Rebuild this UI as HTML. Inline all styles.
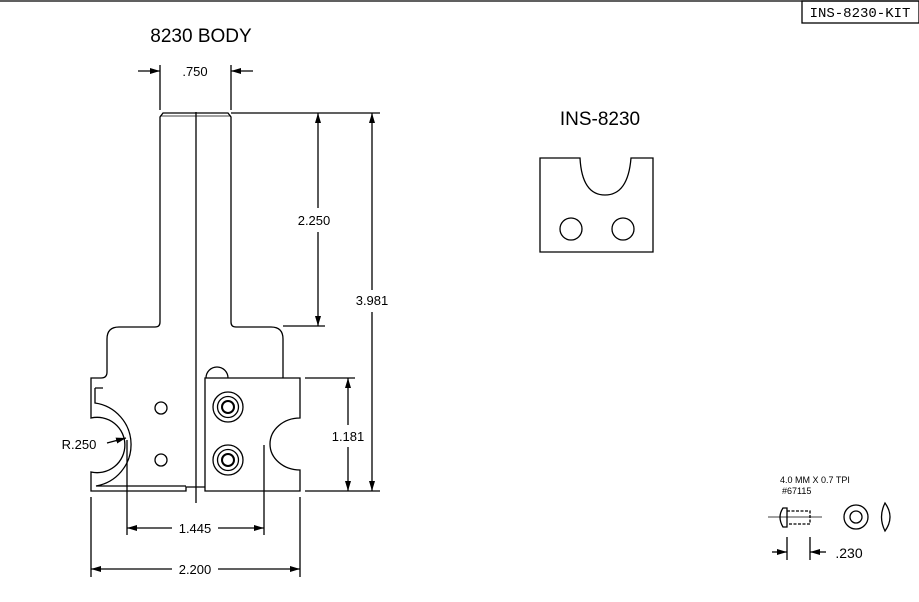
<!DOCTYPE html>
<html><head><style>body{margin:0;background:#fff}svg{display:block}text{font-family:"Liberation Sans",sans-serif}</style></head><body>
<svg width="919" height="602" viewBox="0 0 919 602" xmlns="http://www.w3.org/2000/svg">
<defs><marker id="a" markerWidth="10" markerHeight="6" refX="10" refY="3" orient="auto" markerUnits="userSpaceOnUse"><path d="M0,0L10,3L0,6z" fill="#000"/></marker></defs>
<g fill="none" stroke="#000" stroke-width="1.3">
<line x1="0" y1="1" x2="919" y2="1"/>
<rect x="802" y="1" width="117" height="22"/>
<path d="M160,322V117L163,113H228L231,117V322Q231,327 236,327H271Q283,327 283,339V378"/>
<path d="M160,322Q160,327 155,327H119Q107,327 107,339V372Q107,378 101,378H91V418A27.7,27.7 0 1 1 91,472V491H186V487H205"/>
<path d="M95,388H103M95,388V403A42,42 0 0 1 96,486H186"/>
<line x1="160" y1="116" x2="231" y2="116" stroke-width="0.8"/>
<line x1="196" y1="112" x2="196" y2="503"/>
<circle cx="161" cy="408" r="6"/><circle cx="161" cy="460" r="6"/>
<path d="M205,378H300V418A30,26 0 0 0 300,470V491H205Z"/>
<path d="M206,378A11,11 0 0 1 228,378"/>
<circle cx="228" cy="407" r="15"/><circle cx="228" cy="407" r="10.5"/><circle cx="228" cy="407" r="6" stroke-width="2"/>
<circle cx="228" cy="460" r="15"/><circle cx="228" cy="460" r="10.5"/><circle cx="228" cy="460" r="6" stroke-width="2"/>
<line x1="160" y1="65" x2="160" y2="110"/><line x1="231" y1="65" x2="231" y2="110"/>
<line x1="138" y1="71" x2="160" y2="71" marker-end="url(#a)"/><line x1="253" y1="71" x2="231" y2="71" marker-end="url(#a)"/>
<line x1="231" y1="113" x2="380" y2="113"/>
<line x1="283" y1="326" x2="325" y2="326"/>
<line x1="318" y1="208" x2="318" y2="113" marker-end="url(#a)"/><line x1="318" y1="232" x2="318" y2="326" marker-end="url(#a)"/>
<line x1="372" y1="290" x2="372" y2="113" marker-end="url(#a)"/><line x1="372" y1="312" x2="372" y2="491" marker-end="url(#a)"/>
<line x1="305" y1="378" x2="355" y2="378"/><line x1="305" y1="491" x2="380" y2="491"/>
<line x1="348" y1="425" x2="348" y2="378" marker-end="url(#a)"/><line x1="348" y1="447" x2="348" y2="491" marker-end="url(#a)"/>
<line x1="127" y1="440" x2="127" y2="535"/><line x1="264" y1="445" x2="264" y2="535"/>
<line x1="172" y1="528" x2="127" y2="528" marker-end="url(#a)"/><line x1="218" y1="528" x2="264" y2="528" marker-end="url(#a)"/>
<line x1="91" y1="497" x2="91" y2="577"/><line x1="300" y1="497" x2="300" y2="577"/>
<line x1="172" y1="569" x2="91" y2="569" marker-end="url(#a)"/><line x1="218" y1="569" x2="300" y2="569" marker-end="url(#a)"/>
<line x1="107" y1="443" x2="126" y2="438" marker-end="url(#a)"/>
<path d="M540,158H580Q582,195 605,195Q628,195 631,158H653V252H540Z"/>
<circle cx="571" cy="229" r="11"/><circle cx="623" cy="229" r="11"/>
<line x1="768" y1="517" x2="822" y2="517" stroke-width="0.8"/>
<path d="M783,508Q777,517 783,527H787V508Z"/>
<path d="M787,511H810V524H787" stroke-dasharray="3,1.5"/>
<circle cx="856" cy="517" r="12"/><circle cx="856" cy="517" r="6"/>
<path d="M885,503Q895,517 885,531Q878,517 885,503Z"/>
<line x1="787" y1="537" x2="787" y2="560"/><line x1="810" y1="537" x2="810" y2="560"/>
<line x1="772" y1="552" x2="787" y2="552" marker-end="url(#a)"/><line x1="826" y1="552" x2="810" y2="552" marker-end="url(#a)"/>
</g>
<g font-size="13" fill="#000" text-anchor="middle">
<text x="860" y="17" style="font-family:'Liberation Mono',monospace;font-size:14px">INS-8230-KIT</text>
<text x="201" y="42" font-size="19">8230 BODY</text>
<text x="600" y="125" font-size="19">INS-8230</text>
<text x="195" y="76">.750</text>
<text x="314" y="225">2.250</text>
<text x="372" y="305">3.981</text>
<text x="348" y="441">1.181</text>
<text x="195" y="533">1.445</text>
<text x="195" y="574">2.200</text>
<text x="79" y="449">R.250</text>
<text x="849" y="558" font-size="14">.230</text>
<text x="780" y="483" font-size="9" text-anchor="start">4.0 MM X 0.7 TPI</text>
<text x="782" y="494" font-size="9" text-anchor="start">#67115</text>
</g>
</svg>
</body></html>
